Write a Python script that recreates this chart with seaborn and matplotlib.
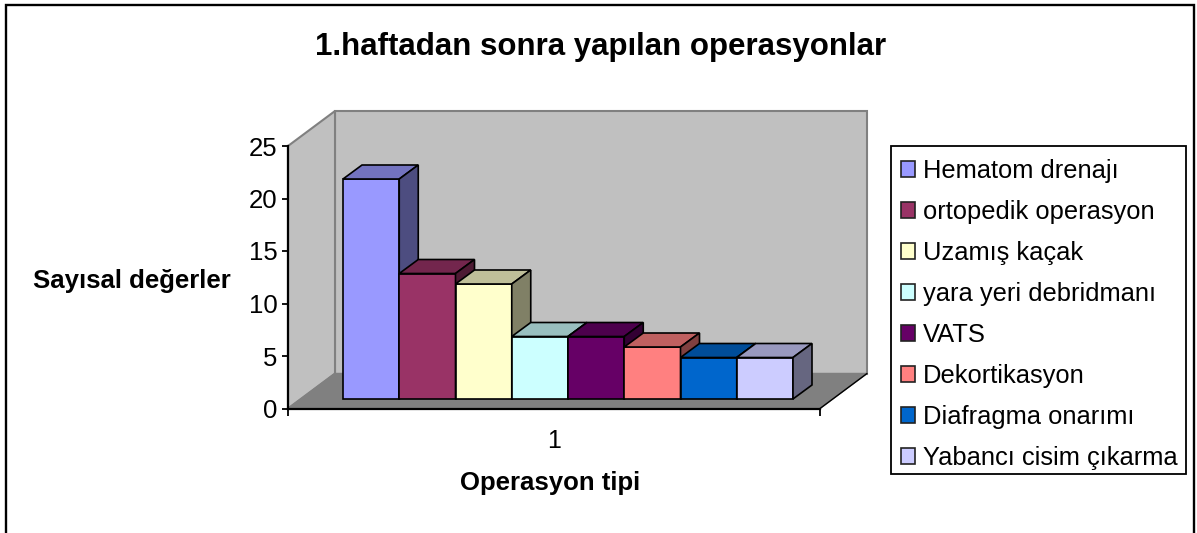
import pandas as pd
import seaborn as sns
import matplotlib.pyplot as plt
from matplotlib.colors import to_rgb
from matplotlib.patches import Polygon, Rectangle
from matplotlib.transforms import Affine2D

operasyonlar = ['Hematom drenajı', 'ortopedik operasyon', 'Uzamış kaçak', 'yara yeri debridmanı',
                'VATS', 'Dekortikasyon', 'Diafragma onarımı', 'Yabancı cisim çıkarma']
sayilar = [22, 13, 12, 7, 7, 6, 5, 5]
renkler = ['#9999FF', '#993366', '#FFFFCC', '#CCFFFF', '#660066', '#FF8080', '#0066CC', '#CCCCFF']
grup = ['1'] * len(sayilar)

W, H = 1197, 533

sns.set_theme(style='ticks')
plt.rcParams['font.family'] = ['Liberation Sans', 'DejaVu Sans']

df = pd.DataFrame({'grup': grup, 'operasyon': operasyonlar, 'sayi': sayilar})

fig = plt.figure(figsize=(W / 100, H / 100), dpi=100, facecolor='white')
ax = fig.add_axes([288 / W, 1 - 408.5 / H, 532 / W, 262.5 / H])
ax.set_facecolor('none')

# duvarlar ve taban (eksenin arkasinda, piksel kaydirmali)
derin = Affine2D().translate(47, 35)
arka = ax.transAxes + derin
ax.add_patch(Rectangle((0, 0), 1, 1, transform=arka, fc='#C0C0C0', ec='#808080', lw=1.5, clip_on=False, zorder=0))
kose = [ax.transAxes.transform(p) for p in [(0, 0), (0, 1), (1, 0)]]
sol = Polygon([kose[0], kose[1], kose[1] + (47, 35), kose[0] + (47, 35)], transform=None,
              fc='#C0C0C0', ec='#808080', lw=1.5, clip_on=False, zorder=0)
taban = Polygon([kose[0], kose[0] + (47, 35), kose[2] + (47, 35), kose[2]], transform=None,
                fc='#808080', ec='#808080', lw=1, clip_on=False, zorder=0.5)
ax.add_patch(sol)
ax.add_patch(taban)
ax.plot([kose[2][0], kose[2][0] + 47], [kose[2][1], kose[2][1] + 35], transform=None,
        color='black', lw=1, clip_on=False, zorder=0.6)

sns.barplot(data=df, x='grup', y='sayi', hue='operasyon', hue_order=operasyonlar, palette=renkler,
            width=450 / 532, gap=0, saturation=1, edgecolor='black', linewidth=1.2, ax=ax, zorder=2)

ax.set_xlim(-0.5, 0.5)
ax.set_ylim(0, 25)
ax.set_yticks([0, 5, 10, 15, 20, 25])

# sutunlarin 3B gorunumu
kaydir = ax.transData + Affine2D().translate(14, 1.5 * -1)
dx = 19 / 532
dy = 14 / 10.5
alt = 1.05
for i, cont in enumerate(ax.containers):
    p = cont[0]
    renk = to_rgb(renkler[i])
    x0, w, h = p.get_x(), p.get_width(), p.get_height()
    p.set_y(alt)
    p.set_height(h - alt)
    p.set_transform(kaydir)
    p.set_zorder(3 + i)
    x1 = x0 + w
    ust = Polygon([(x0, h), (x0 + dx, h + dy), (x1 + dx, h + dy), (x1, h)], transform=kaydir,
                  fc=[c * 0.75 for c in renk], ec='black', lw=1.2, clip_on=False, zorder=3 + i)
    yan = Polygon([(x1, alt), (x1, h), (x1 + dx, h + dy), (x1 + dx, alt + dy)], transform=kaydir,
                  fc=[c * 0.5 for c in renk], ec='black', lw=1.2, clip_on=False, zorder=3 + i)
    ax.add_patch(ust)
    ax.add_patch(yan)
    p.set_clip_on(False)

sns.despine(ax=ax)
for s in ['left', 'bottom']:
    ax.spines[s].set_linewidth(1.6)
    ax.spines[s].set_color('black')
    ax.spines[s].set_zorder(20)

ax.tick_params(axis='y', length=4.5, width=1.3, labelsize=18.5, pad=3, colors='black')
ax.tick_params(axis='x', which='major', length=0, labelsize=18, pad=15, colors='black')
ax.set_xticks([-0.5, 0.5], minor=True)
ax.tick_params(axis='x', which='minor', length=5, width=1.3, colors='black')

ax.set_ylabel('Sayısal değerler', rotation=0, fontsize=18.5, fontweight='bold', color='black', ha='center', va='center')
ax.yaxis.set_label_coords((132 - 288) / 532, (408.5 - 281) / 262.5)
ax.set_xlabel('Operasyon tipi', fontsize=18.5, fontweight='bold', color='black', ha='center', va='center')
ax.xaxis.set_label_coords((550 - 288) / 532, (408.5 - 483) / 262.5)
fig.text(601 / W, 1 - 47 / H, '1.haftadan sonra yapılan operasyonlar', fontsize=22.5, fontweight='bold',
         ha='center', va='center', color='black')

h, l = ax.get_legend_handles_labels()
leg = ax.legend(h, l, loc='upper left', bbox_to_anchor=(901 / W, 1 - 159 / H), bbox_transform=fig.transFigure,
                fontsize=18.4, frameon=False, borderaxespad=0, borderpad=0, labelspacing=0.665,
                handlelength=0.55, handleheight=0.55, handletextpad=0.31, title=None)
leg.set_zorder(30)
for t in leg.get_texts():
    t.set_color('black')
for hnd in leg.legend_handles:
    hnd.set_edgecolor('#222222')
    hnd.set_linewidth(1.2)

# lejant kutusu
fig.add_artist(Rectangle((891 / W, 1 - 474 / H), 295 / W, 328 / H, transform=fig.transFigure,
                         fc='none', ec='black', lw=1.3, clip_on=False))

# dis cerceve (alt kenar resmin disinda)
fig.add_artist(Rectangle((5.5 / W, -0.1), (1194 - 5.5) / W, 1.1 - 5.5 / H, transform=fig.transFigure,
                         fc='none', ec='black', lw=1.7, clip_on=False))

fig.savefig('out.png', dpi=100)
